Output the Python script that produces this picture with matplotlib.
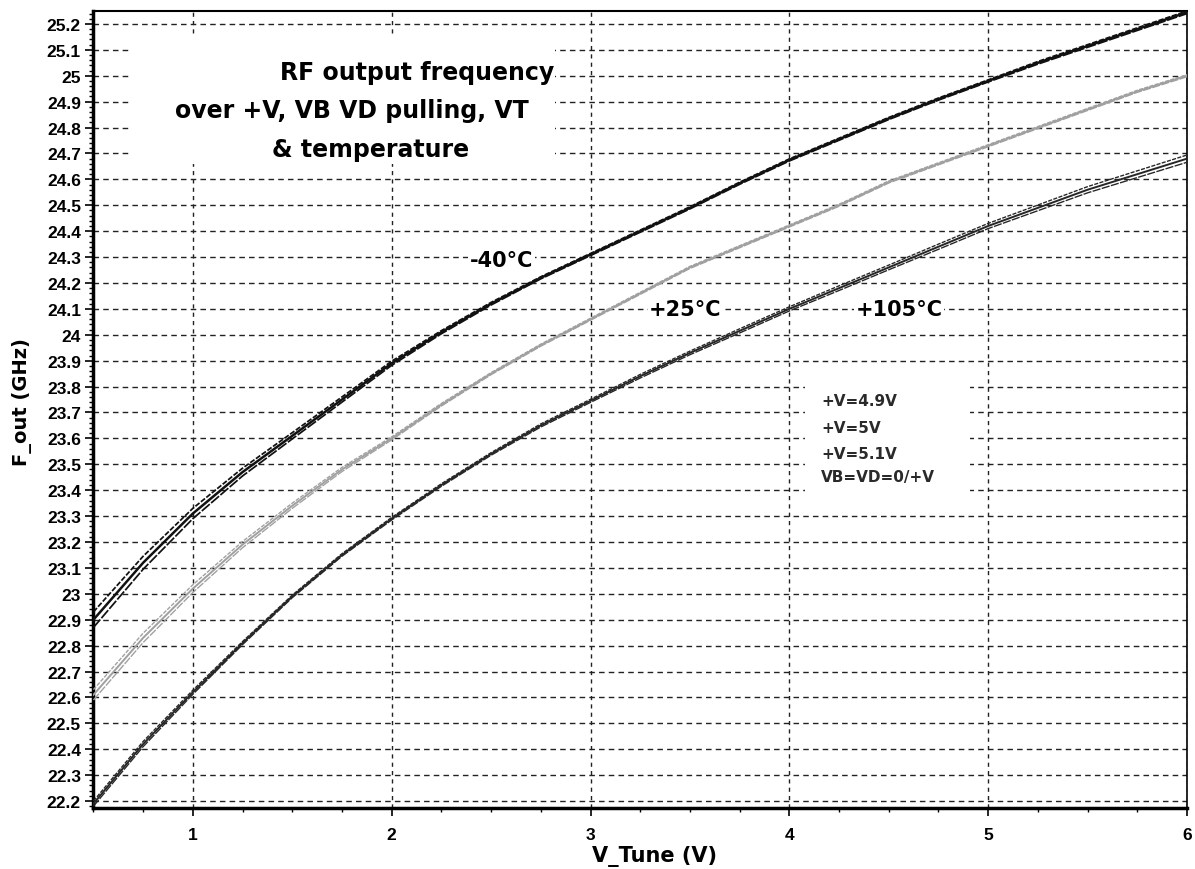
import numpy as np
import matplotlib.pyplot as plt
from matplotlib.ticker import MultipleLocator
from matplotlib.patches import Rectangle

plt.rcParams['font.family'] = ['DejaVu Sans']

# tuning voltage (V)
v_tune = [0.5, 0.75, 1.0, 1.25, 1.5, 1.75, 2.0, 2.25, 2.5, 2.75, 3.0, 3.25,
          3.5, 3.75, 4.0, 4.25, 4.5, 4.75, 5.0, 5.25, 5.5, 5.75, 6.0]

# F_out (GHz), nominal +V=5V
f_m40 = [22.90, 23.12, 23.31, 23.47, 23.61, 23.75, 23.89, 24.01, 24.12, 24.22, 24.31, 24.40,
         24.49, 24.585, 24.675, 24.755, 24.835, 24.91, 24.98, 25.05, 25.115, 25.18, 25.245]
f_p25 = [22.61, 22.83, 23.02, 23.19, 23.34, 23.48, 23.60, 23.73, 23.85, 23.96, 24.06, 24.16,
         24.26, 24.34, 24.42, 24.50, 24.59, 24.66, 24.73, 24.80, 24.87, 24.94, 25.00]
f_p105 = [22.19, 22.42, 22.62, 22.81, 22.99, 23.15, 23.29, 23.42, 23.54, 23.65, 23.745, 23.84,
          23.93, 24.015, 24.10, 24.18, 24.26, 24.34, 24.42, 24.49, 24.56, 24.62, 24.68]

# half-width of the bundle of +V / VB VD curves at each V_Tune
spread_m40 = [0.03, 0.025, 0.02, 0.015, 0.012, 0.01, 0.008, 0.006, 0.005, 0.004, 0.004, 0.004,
              0.004, 0.004, 0.004, 0.004, 0.004, 0.004, 0.004, 0.005, 0.005, 0.005, 0.005]
spread_p25 = [0.02, 0.018, 0.015, 0.012, 0.01, 0.008, 0.006, 0.005, 0.004, 0.004, 0.004, 0.004,
              0.004, 0.004, 0.004, 0.004, 0.004, 0.004, 0.004, 0.004, 0.004, 0.004, 0.004]
spread_p105 = [0.01, 0.01, 0.008, 0.006, 0.005, 0.005, 0.005, 0.005, 0.005, 0.006, 0.006, 0.007,
               0.007, 0.008, 0.008, 0.009, 0.009, 0.010, 0.010, 0.011, 0.012, 0.013, 0.014]

curves = [(f_m40, spread_m40, '#111111', 1.8),
          (f_p25, spread_p25, '#a0a0a0', 1.4),
          (f_p105, spread_p105, '#262626', 1.4)]

fig = plt.figure(figsize=(11.95, 8.70), dpi=100)
ax = fig.add_axes([0.0782, 0.0701, 0.9151, 0.9161])

x = np.array(v_tune)
for f, s, col, lw in curves:
    f = np.array(f)
    s = np.array(s)
    ax.plot(x, f, color=col, lw=lw, zorder=3)
    ax.plot(x, f - s, color=col, lw=lw * 0.7, ls=(0, (6, 1)), zorder=3)
    ax.plot(x, f + s, color=col, lw=lw * 0.7, ls=(0, (3, 1)), zorder=3)

ax.set_xlim(0.5, 6)
ax.set_ylim(22.173, 25.25)

ax.xaxis.set_major_locator(MultipleLocator(1))
ax.xaxis.set_minor_locator(MultipleLocator(0.25))
ax.yaxis.set_major_locator(MultipleLocator(0.1))
ax.yaxis.set_minor_locator(MultipleLocator(0.02))
ax.yaxis.set_major_formatter(plt.FuncFormatter(lambda v, p: '%g' % round(v, 1)))

ax.grid(True, axis='y', which='major', color='#222222', ls=(0, (4, 3)), lw=1.0, zorder=1)
ax.grid(True, axis='x', which='major', color='#222222', ls=(0, (3, 3)), lw=1.0, zorder=1)

ax.tick_params(axis='both', which='major', direction='out', length=6, width=1.2)
ax.tick_params(axis='y', which='major', pad=3)
ax.tick_params(axis='x', which='major', pad=8)
ax.tick_params(axis='both', which='minor', direction='out', length=3, width=1)
for lab in ax.get_xticklabels() + ax.get_yticklabels():
    lab.set_fontweight('bold')
    lab.set_fontfamily(['Liberation Sans', 'DejaVu Sans'])
    lab.set_fontsize(12.5)

ax.spines['left'].set_linewidth(2.5)
ax.spines['bottom'].set_linewidth(2.5)
ax.spines['top'].set_linewidth(1.5)
ax.spines['right'].set_linewidth(1.2)

ax.set_xlabel('V_Tune (V)', fontsize=15, fontweight='bold')
ax.set_ylabel('F_out (GHz)', fontsize=14, fontweight='bold')
ax.xaxis.set_label_coords(0.513, -0.046)
ax.yaxis.set_label_coords(-0.056, 0.51)

# white boxes hiding the grid behind the annotations
ax.add_patch(Rectangle((0.683, 24.66), 2.14, 0.50, facecolor='white', edgecolor='none', zorder=2))
ax.add_patch(Rectangle((4.08, 23.37), 0.83, 0.46, facecolor='white', edgecolor='none', zorder=2))

ax.text(1.437, 24.988, 'RF output frequency', fontsize=17, fontweight='bold',
        ha='left', va='baseline', zorder=4)
ax.text(0.910, 24.841, 'over +V, VB VD pulling, VT', fontsize=17, fontweight='bold',
        ha='left', va='baseline', zorder=4)
ax.text(1.397, 24.690, '& temperature', fontsize=17, fontweight='bold',
        ha='left', va='baseline', zorder=4)

box = dict(facecolor='white', edgecolor='none', pad=1)
ax.text(2.553, 24.289, '-40°C', fontsize=15, fontweight='bold', ha='center', va='center',
        bbox=box, zorder=4)
ax.text(3.477, 24.10, '+25°C', fontsize=15, fontweight='bold', ha='center', va='center',
        bbox=box, zorder=4)
ax.text(4.553, 24.10, '+105°C', fontsize=15, fontweight='bold', ha='center', va='center',
        bbox=box, zorder=4)

legend_lines = ['+V=4.9V', '+V=5V', '+V=5.1V', 'VB=VD=0/+V']
legend_y = [23.729, 23.625, 23.524, 23.436]
for t, yy in zip(legend_lines, legend_y):
    ax.text(4.161, yy, t, fontsize=11, fontweight='bold', ha='left', va='baseline',
            color='#2a2a2a', zorder=4)

fig.savefig('out.png', dpi=100)
